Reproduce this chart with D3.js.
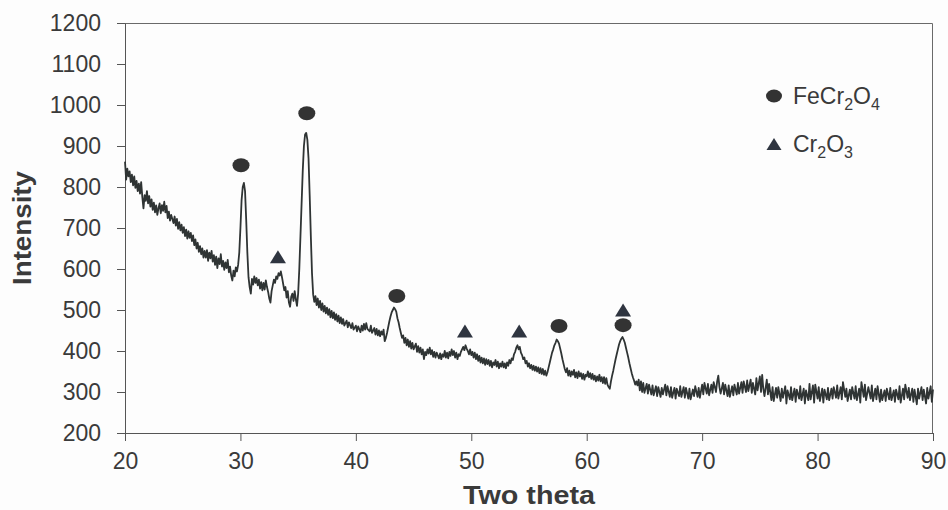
<!DOCTYPE html>
<html>
<head>
<meta charset="utf-8">
<script src="https://cdn.jsdelivr.net/npm/d3@7"></script>
<style>
  html, body { margin: 0; padding: 0; background: #fdfdfd; }
  svg { display: block; font-family: "Liberation Sans", Arial, sans-serif; }
</style>
</head>
<body>
<div id="chart"></div>
<script>
// XRD pattern
const xTicks = [20, 30, 40, 50, 60, 70, 80, 90];
const yTicks = [200, 300, 400, 500, 600, 700, 800, 900, 1000, 1100, 1200];

const pattern = [
  [20.0,862],[20.1,818],[20.2,845],[20.3,826],[20.4,838],[20.5,812],[20.6,830],[20.7,804],[20.8,826],[20.9,798],
  [21.0,815],[21.1,790],[21.2,808],[21.3,784],[21.4,812],[21.5,776],[21.6,748],[21.7,780],[21.8,766],[21.9,790],
  [22.0,760],[22.1,778],[22.2,752],[22.3,770],[22.4,744],[22.5,762],[22.6,738],[22.7,755],[22.8,732],[22.9,748],
  [23.0,760],[23.1,736],[23.2,756],[23.3,742],[23.4,764],[23.5,738],[23.6,754],[23.7,724],[23.8,740],[23.9,718],
  [24.0,732],[24.2,712],[24.3,728],[24.4,706],[24.5,722],[24.6,698],[24.7,714],[24.8,694],[24.9,708],[25.0,688],
  [25.1,702],[25.2,680],[25.3,696],[25.4,674],[25.5,692],[25.6,676],[25.7,688],[25.8,668],[25.9,682],[26.0,658],
  [26.1,672],[26.2,650],[26.3,664],[26.4,642],[26.5,656],[26.6,636],[26.7,650],[26.8,628],[26.9,644],[27.0,628],
  [27.1,646],[27.2,620],[27.3,640],[27.4,626],[27.5,644],[27.6,618],[27.7,634],[27.8,610],[27.9,630],[28.0,602],
  [28.1,626],[28.2,612],[28.3,636],[28.4,606],[28.5,620],[28.6,598],[28.7,616],[28.8,602],[28.9,622],[29.0,592],
  [29.1,606],[29.2,584],[29.3,572],[29.4,596],[29.5,582],[29.6,604],[29.7,594],[29.8,610],
  [29.9,640],[30.0,700],[30.1,768],[30.2,800],[30.3,810],[30.4,790],[30.5,720],[30.6,640],[30.7,580],[30.8,556],
  [30.9,540],[31.0,576],[31.1,562],[31.2,582],[31.3,566],[31.4,578],[31.5,560],[31.6,574],[31.7,552],[31.8,568],
  [31.9,548],[32.0,566],[32.1,550],[32.2,572],[32.3,556],[32.4,544],[32.5,528],[32.6,518],[32.7,546],[32.8,560],
  [32.9,574],[33.0,566],[33.1,582],[33.2,576],[33.3,590],[33.4,584],[33.5,594],[33.6,580],[33.7,564],[33.8,548],
  [33.9,556],[34.0,530],[34.1,546],[34.2,518],[34.3,508],[34.4,532],[34.5,540],[34.6,522],[34.7,546],[34.8,526],
  [34.9,510],[35.0,540],[35.1,600],[35.2,680],[35.3,760],[35.4,840],[35.5,900],[35.6,928],[35.7,932],[35.8,915],
  [35.9,870],[36.0,780],[36.1,680],[36.2,590],[36.3,538],[36.4,520],[36.5,534],[36.6,512],[36.7,528],[36.8,506],
  [36.9,522],[37.0,500],[37.1,516],[37.2,496],[37.3,510],[37.4,492],[37.5,506],[37.6,488],[37.7,502],[37.8,482],
  [37.9,498],[38.0,480],[38.1,494],[38.2,476],[38.3,490],[38.4,472],[38.5,486],[38.6,468],[38.7,482],[38.8,466],
  [38.9,478],[39.0,462],[39.2,474],[39.3,458],[39.4,470],[39.6,456],[39.7,468],[39.8,452],[40.0,462],[40.1,448],
  [40.2,460],[40.4,446],[40.5,462],[40.6,450],[40.7,466],[40.8,452],[40.9,468],[41.0,454],[41.2,448],[41.3,462],
  [41.4,444],[41.6,456],[41.7,440],[41.8,454],[41.9,438],[42.0,450],[42.1,436],[42.2,448],[42.3,440],[42.4,452],
  [42.5,424],[42.6,432],[42.7,444],[42.8,458],[42.9,472],[43.0,484],[43.1,494],[43.2,500],[43.3,506],[43.4,502],
  [43.5,496],[43.6,480],[43.7,470],[43.8,456],[43.9,444],[44.0,432],[44.1,438],[44.2,420],[44.3,432],[44.4,414],
  [44.5,428],[44.6,410],[44.7,424],[44.8,406],[44.9,420],[45.0,404],[45.2,418],[45.3,398],[45.4,412],[45.5,396],
  [45.6,408],[45.7,392],[45.8,404],[45.9,380],[46.0,398],[46.1,390],[46.2,404],[46.3,394],[46.4,408],[46.5,392],
  [46.6,402],[46.7,386],[46.8,398],[46.9,384],[47.0,396],[47.2,382],[47.3,394],[47.4,380],[47.5,392],[47.6,386],
  [47.7,400],[47.8,384],[47.9,396],[48.0,382],[48.1,398],[48.2,388],[48.3,404],[48.4,390],[48.5,400],[48.6,384],
  [48.7,396],[48.8,380],[48.9,392],[49.0,388],[49.1,398],[49.2,404],[49.3,410],[49.4,402],[49.5,414],[49.6,406],
  [49.7,400],[49.8,392],[49.9,404],[50.0,390],[50.1,398],[50.2,384],[50.3,396],[50.4,380],[50.5,392],[50.6,376],
  [50.7,388],[50.8,372],[50.9,384],[51.0,370],[51.1,382],[51.2,366],[51.3,380],[51.4,368],[51.5,378],[51.6,364],
  [51.7,376],[51.8,360],[51.9,372],[52.0,366],[52.1,378],[52.2,362],[52.3,374],[52.4,358],[52.5,370],[52.6,362],
  [52.7,374],[52.8,360],[52.9,370],[53.0,358],[53.1,372],[53.2,364],[53.3,378],[53.4,370],[53.5,382],[53.6,378],
  [53.7,392],[53.8,398],[53.9,408],[54.0,414],[54.1,404],[54.2,410],[54.3,396],[54.4,390],[54.5,380],[54.6,384],
  [54.7,370],[54.8,376],[54.9,362],[55.0,370],[55.1,358],[55.2,366],[55.3,354],[55.4,364],[55.5,352],[55.6,362],
  [55.7,350],[55.8,360],[55.9,346],[56.0,358],[56.1,344],[56.2,356],[56.3,342],[56.4,352],[56.5,340],[56.6,348],
  [56.7,360],[56.8,372],[56.9,384],[57.0,396],[57.1,404],[57.2,414],[57.3,420],[57.4,428],[57.5,424],[57.6,418],
  [57.7,406],[57.8,394],[57.9,380],[58.0,368],[58.1,356],[58.2,348],[58.3,358],[58.4,340],[58.5,352],[58.6,338],
  [58.7,350],[58.8,342],[58.9,354],[59.0,336],[59.1,348],[59.2,334],[59.3,350],[59.4,338],[59.5,346],[59.6,332],
  [59.7,344],[59.8,330],[59.9,342],[60.0,338],[60.1,350],[60.2,336],[60.3,346],[60.4,332],[60.5,344],[60.6,330],
  [60.7,340],[60.8,326],[60.9,338],[61.0,328],[61.1,342],[61.2,326],[61.3,336],[61.4,322],[61.5,336],[61.6,320],
  [61.7,334],[61.8,318],[61.9,312],[62.0,308],[62.1,326],[62.2,340],[62.3,352],[62.4,366],[62.5,380],[62.6,392],
  [62.7,404],[62.8,416],[62.9,424],[63.0,430],[63.1,434],[63.2,428],[63.3,420],[63.4,408],[63.5,396],[63.6,384],
  [63.7,370],[63.8,358],[63.9,346],[64.0,336],[64.1,328],[64.2,318],[64.3,326],[64.4,316],[64.5,330],[64.6,304],
  [64.7,326],[64.8,300],[64.9,322],[65.0,298],[65.2,320],[65.3,296],[65.4,318],[65.6,294],[65.7,316],[65.8,292],
  [66.0,314],[66.1,290],[66.2,312],[66.4,288],[66.5,310],[66.6,294],[66.8,318],[66.9,292],[67.0,314],[67.2,288],
  [67.3,312],[67.4,286],[67.6,310],[67.7,284],[67.8,308],[68.0,290],[68.1,314],[68.2,288],[68.4,312],[68.5,286],
  [68.6,310],[68.8,284],[68.9,308],[69.0,282],[69.2,306],[69.3,290],[69.4,314],[69.6,288],[69.7,310],[69.8,286],
  [70.0,318],[70.1,294],[70.2,322],[70.4,296],[70.5,320],[70.6,292],[70.8,318],[70.9,298],[71.0,324],[71.2,300],
  [71.3,326],[71.4,340],[71.5,312],[71.6,296],[71.8,322],[71.9,294],[72.0,318],[72.2,290],[72.3,316],[72.4,288],
  [72.6,314],[72.7,292],[72.8,318],[73.0,294],[73.1,322],[73.2,296],[73.4,324],[73.5,298],[73.6,326],[73.8,300],
  [73.9,328],[74.0,302],[74.2,330],[74.3,298],[74.4,322],[74.6,294],[74.7,334],[74.8,304],[75.0,338],[75.1,300],
  [75.2,342],[75.3,308],[75.4,290],[75.6,330],[75.7,294],[75.8,320],[76.0,280],[76.1,312],[76.2,278],[76.4,310],
  [76.5,286],[76.6,312],[76.8,278],[76.9,308],[77.0,286],[77.2,314],[77.3,272],[77.4,304],[77.6,282],[77.7,312],
  [77.8,280],[78.0,308],[78.1,276],[78.2,306],[78.4,284],[78.5,314],[78.6,280],[78.8,308],[78.9,272],[79.0,304],
  [79.2,280],[79.3,320],[79.4,282],[79.6,316],[79.7,274],[79.8,318],[80.0,284],[80.1,312],[80.2,278],[80.4,308],
  [80.5,274],[80.6,306],[80.8,282],[80.9,310],[81.0,280],[81.2,308],[81.3,284],[81.4,312],[81.6,286],[81.7,316],
  [81.8,284],[82.0,312],[82.1,282],[82.2,324],[82.4,288],[82.5,308],[82.6,278],[82.8,306],[82.9,282],[83.0,312],
  [83.2,284],[83.3,314],[83.4,280],[83.6,308],[83.7,274],[83.8,324],[84.0,288],[84.1,318],[84.2,280],[84.4,312],
  [84.6,284],[84.7,316],[84.8,278],[85.0,308],[85.1,282],[85.2,314],[85.4,276],[85.5,306],[85.6,280],[85.8,304],
  [85.9,278],[86.0,308],[86.2,282],[86.3,310],[86.4,280],[86.6,304],[86.7,276],[86.8,306],[87.0,282],[87.1,314],
  [87.2,274],[87.4,308],[87.5,282],[87.6,318],[87.8,286],[87.9,310],[88.0,280],[88.2,308],[88.3,276],[88.4,306],
  [88.6,270],[88.7,308],[88.8,284],[89.0,312],[89.1,280],[89.2,306],[89.4,272],[89.5,310],[89.6,284],[89.8,314],
  [89.9,276],[90.0,306]
];

// peak labels: [2theta, height of the marker]
const feCr2O4Marks = [[30.05, 853], [35.75, 980], [43.55, 534], [57.6, 461], [63.15, 463]];
const cr2O3Marks = [[33.25, 630], [49.45, 449], [54.15, 449], [63.15, 500]];

const W = 948, H = 510;
const margin = { top: 23, right: 15, bottom: 77, left: 125 };
const width = W - margin.left - margin.right;
const height = H - margin.top - margin.bottom;
const ink = '#3a3a3a';

const svg = d3.select('#chart').append('svg')
  .attr('width', W)
  .attr('height', H);

const g = svg.append('g')
  .attr('transform', `translate(${margin.left},${margin.top})`);

const x = d3.scaleLinear().domain([20, 90]).range([0, width]);
const y = d3.scaleLinear().domain([200, 1200]).range([height, 0]);

// frame (top and right)
g.append('path')
  .attr('d', `M0,0.5H${width - 0.5}V${height}`)
  .attr('fill', 'none')
  .attr('stroke', '#6a6a6a')
  .attr('stroke-width', 1);

const xAxis = g.append('g')
  .attr('transform', `translate(0,${height})`)
  .call(d3.axisBottom(x).tickValues(xTicks).tickFormat(d3.format('d'))
    .tickSize(8).tickPadding(12).tickSizeOuter(0));

const yAxis = g.append('g')
  .call(d3.axisLeft(y).tickValues(yTicks).tickFormat(d3.format('d'))
    .tickSize(8).tickPadding(16).tickSizeOuter(0));

[xAxis, yAxis].forEach(a => {
  a.select('.domain').attr('stroke', '#555');
  a.selectAll('.tick line').attr('stroke', '#555');
  a.selectAll('.tick text')
    .attr('fill', ink)
    .style('font-size', '23px')
    .style('font-family', '"Liberation Sans", Arial, sans-serif');
});

// the pattern
const line = d3.line()
  .x(d => x(d[0]))
  .y(d => y(d[1]));

g.append('path')
  .datum(pattern)
  .attr('d', line)
  .attr('fill', 'none')
  .attr('stroke', '#2f3434')
  .attr('stroke-width', 1.8)
  .attr('stroke-linejoin', 'round');

// marker shapes
function triPath(w, h) {
  return `M0,${-h / 2}L${w / 2},${h / 2}L${-w / 2},${h / 2}Z`;
}

g.selectAll('.fe-mark')
  .data(feCr2O4Marks)
  .join('ellipse')
  .attr('class', 'fe-mark')
  .attr('cx', d => x(d[0]))
  .attr('cy', d => y(d[1]))
  .attr('rx', 8.5)
  .attr('ry', 7)
  .attr('fill', '#333');

g.selectAll('.cr-mark')
  .data(cr2O3Marks)
  .join('path')
  .attr('class', 'cr-mark')
  .attr('transform', d => `translate(${x(d[0])},${y(d[1])})`)
  .attr('d', triPath(16, 13))
  .attr('fill', '#2f3540');

// legend
const legend = svg.append('g').attr('transform', 'translate(774,0)');

legend.append('ellipse')
  .attr('cx', 0).attr('cy', 96)
  .attr('rx', 8).attr('ry', 6.5)
  .attr('fill', '#333');

legend.append('path')
  .attr('transform', 'translate(0,144)')
  .attr('d', triPath(15, 12))
  .attr('fill', '#2f3540');

function chem(sel, parts) {
  parts.forEach(p => {
    if (p.sub) {
      sel.append('tspan').attr('dy', 6).style('font-size', '16px').text(p.t);
    } else {
      sel.append('tspan').attr('dy', p.up ? -6 : 0).text(p.t);
    }
  });
}

const t1 = legend.append('text')
  .attr('x', 19).attr('y', 104)
  .attr('fill', ink)
  .style('font-size', '23px');
chem(t1, [{ t: 'FeCr' }, { t: '2', sub: true }, { t: 'O', up: true }, { t: '4', sub: true }]);

const t2 = legend.append('text')
  .attr('x', 19).attr('y', 152)
  .attr('fill', ink)
  .style('font-size', '23px');
chem(t2, [{ t: 'Cr' }, { t: '2', sub: true }, { t: 'O', up: true }, { t: '3', sub: true }]);

// axis titles
svg.append('text')
  .attr('x', margin.left + width / 2)
  .attr('y', 504)
  .attr('text-anchor', 'middle')
  .attr('fill', ink)
  .style('font-size', '25px')
  .style('font-weight', 'bold')
  .attr('textLength', 132)
  .attr('lengthAdjust', 'spacingAndGlyphs')
  .text('Two theta');

svg.append('text')
  .attr('transform', `translate(31,${margin.top + height / 2}) rotate(-90)`)
  .attr('text-anchor', 'middle')
  .attr('fill', ink)
  .style('font-size', '25px')
  .style('font-weight', 'bold')
  .attr('textLength', 114)
  .attr('lengthAdjust', 'spacingAndGlyphs')
  .text('Intensity');
</script>
</body>
</html>
